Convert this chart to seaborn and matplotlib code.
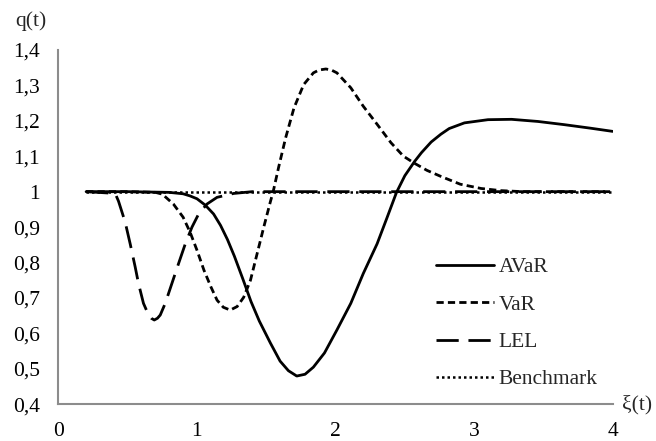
import numpy as np
import pandas as pd
import matplotlib
matplotlib.use("Agg")
import matplotlib.pyplot as plt
import seaborn as sns

# ========== 数据 ==========
avar_x = [0.2, 0.5, 0.8, 0.9, 0.95, 1.0, 1.06, 1.12, 1.17, 1.22, 1.27, 1.33, 1.39, 1.45,
          1.53, 1.6, 1.66, 1.72, 1.78, 1.84, 1.92, 2.01, 2.11, 2.2, 2.3, 2.37, 2.44, 2.5,
          2.57, 2.62, 2.69, 2.76, 2.82, 2.93, 3.1, 3.27, 3.46, 3.65, 3.84, 4.0]
avar_y = [1.0, 1.0, 0.998, 0.994, 0.988, 0.98, 0.962, 0.937, 0.905, 0.865, 0.818, 0.755, 0.69, 0.635,
          0.573, 0.522, 0.495, 0.48, 0.485, 0.505, 0.545, 0.61, 0.685, 0.769, 0.853, 0.925, 0.998, 1.045,
          1.085, 1.11, 1.14, 1.162, 1.178, 1.194, 1.203, 1.204, 1.198, 1.189, 1.179, 1.17]

var_x = [0.2, 0.5, 0.7, 0.75, 0.83, 0.9, 0.95, 1.0, 1.05, 1.1, 1.145, 1.19, 1.24, 1.29,
         1.337, 1.386, 1.434, 1.482, 1.53, 1.55, 1.59, 1.64, 1.7, 1.77, 1.84, 1.88, 1.93,
         1.97, 2.01, 2.11, 2.2, 2.3, 2.4, 2.49, 2.57, 2.66, 2.76, 2.9, 3.05, 3.19, 3.35, 4.0]
var_y = [1.0, 1.0, 0.998, 0.993, 0.965, 0.928, 0.886, 0.835, 0.779, 0.732, 0.694, 0.674, 0.666, 0.676,
         0.702, 0.75, 0.825, 0.9, 0.972, 1.0, 1.07, 1.152, 1.236, 1.302, 1.335, 1.343, 1.346,
         1.343, 1.335, 1.293, 1.241, 1.19, 1.138, 1.1, 1.08, 1.06, 1.043, 1.021, 1.009, 1.003, 1.0, 1.0]

lel_x = [0.2, 0.41, 0.434, 0.482, 0.518, 0.554, 0.578, 0.614, 0.651, 0.67, 0.692, 0.715, 0.735,
         0.771, 0.819, 0.867, 0.916, 0.964, 1.012, 1.072, 1.145, 1.265, 1.4, 4.0]
lel_y = [1.0, 0.995, 0.973, 0.914, 0.853, 0.788, 0.741, 0.685, 0.652, 0.643, 0.638, 0.643, 0.652,
         0.685, 0.741, 0.797, 0.853, 0.9, 0.937, 0.965, 0.984, 0.995, 1.0, 1.0]

bench_x = [0.2, 4.0]
bench_y = [1.0, 1.0]

yticks = [0.4, 0.5, 0.6, 0.7, 0.8, 0.9, 1.0, 1.1, 1.2, 1.3, 1.4]
ytick_labels = ["0,4", "0,5", "0,6", "0,7", "0,8", "0,9", "1", "1,1", "1,2", "1,3", "1,4"]
xticks = [0, 1, 2, 3, 4]

# ========== 样式 ==========
sns.set_style("white")
plt.rcParams['font.family'] = ['Liberation Serif', 'DejaVu Serif']
FS = 15.5

fig = plt.figure(figsize=(6.56, 4.41), dpi=100)
ax = fig.add_axes([0.089, 0.083, 0.845, 0.804])

lw = 2.0
d_var = (2.6, 1.5)
d_lel = (8, 3.5)
d_bench = (1, 1.2)
sns.lineplot(x=avar_x, y=avar_y, ax=ax, color="black", lw=lw, label="AVaR", sort=False)
sns.lineplot(x=var_x, y=var_y, ax=ax, color="black", lw=lw, label="VaR", sort=False).lines[-1].set_dashes(d_var)
sns.lineplot(x=lel_x, y=lel_y, ax=ax, color="black", lw=lw, label="LEL", sort=False).lines[-1].set_dashes(d_lel)
sns.lineplot(x=bench_x, y=bench_y, ax=ax, color="black", lw=1.8, label="Benchmark", sort=False).lines[-1].set_dashes(d_bench)

ax.set_xlim(0, 4)
ax.set_ylim(0.4, 1.4)
ax.set_xticks(xticks)
ax.set_xticklabels([str(t) for t in xticks])
ax.set_yticks(yticks)
ax.set_yticklabels(ytick_labels)
ax.set_xlabel("")
ax.set_ylabel("")

gray = "#8c8c8c"
for side in ["top", "right"]:
    ax.spines[side].set_visible(False)
for side in ["left", "bottom"]:
    ax.spines[side].set_color(gray)
    ax.spines[side].set_linewidth(1.5)
ax.tick_params(axis="both", colors=gray, labelcolor="black", width=1.3, length=4.7,
               direction="out", labelsize=FS)
ax.tick_params(axis="x", pad=8)
ax.tick_params(axis="y", pad=8.5)

# 图例
handles, labels = ax.get_legend_handles_labels()
leg = ax.legend(handles, labels, loc="lower right", bbox_to_anchor=(1.0, 0.0),
                frameon=False, fontsize=FS, handlelength=2.7, handletextpad=0.2,
                labelspacing=0.8, borderaxespad=0.3)
for h, d in zip(leg.get_lines(), [None, d_var, d_lel, d_bench]):
    if d is not None:
        h.set_dashes(d)

fig.text(0.047, 0.951, "q(t)", ha="center", va="center", fontsize=FS)
fig.text(0.971, 0.083, "ξ(t)", ha="center", va="center", fontsize=FS)

plt.savefig("out.png", dpi=100)
